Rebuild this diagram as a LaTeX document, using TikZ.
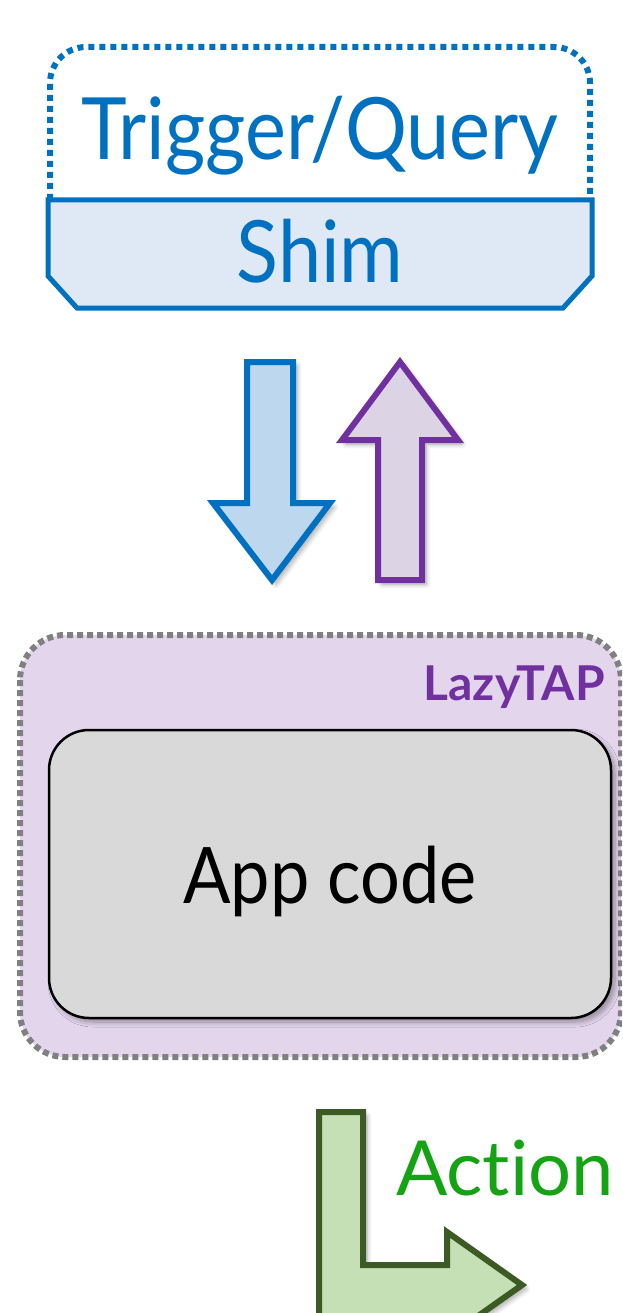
\documentclass[tikz,border=0pt]{standalone}
\usepackage{fontspec}
\setmainfont{Lato}[Ligatures=NoCommon]
\newfontfamily\narrowsans{Lato}[FakeStretch=0.9,Ligatures=NoCommon]
\usetikzlibrary{shadows.blur}
\definecolor{tqblue}{HTML}{0070C0}
\definecolor{shimfill}{HTML}{DEE9F5}
\definecolor{downfill}{HTML}{BDD7EE}
\definecolor{lazypurple}{HTML}{7030A0}
\definecolor{upfill}{HTML}{DCD4E5}
\definecolor{lazyfill}{HTML}{E2D5EC}
\definecolor{lazygray}{HTML}{808080}
\definecolor{appfill}{HTML}{D9D9D9}
\definecolor{actgreen}{HTML}{13A313}
\definecolor{arrgreen}{HTML}{3B5A24}
\definecolor{arrgreenfill}{HTML}{C5E0B4}
\tikzset{
  softshadow/.style={blur shadow={shadow xshift=4pt,shadow yshift=-4pt,shadow blur steps=8,shadow blur radius=5pt,shadow opacity=35}},
  blockarrow/.style={line width=6pt,line join=miter,softshadow},
  label/.style={inner sep=0pt,anchor=base}
}
\begin{document}
\begin{tikzpicture}[x=1pt,y=-1pt]
\useasboundingbox (0,0) rectangle (622,1313);
\begin{scope}
\clip (0,0) rectangle (622,1313);

% Trigger/Query frame (dotted, open at the bottom)
\draw[tqblue,line width=6pt,dash pattern=on 6pt off 5pt,rounded corners=36pt]
  (50,200) -- (50,47) -- (590,47) -- (590,200);
\node[label,text=tqblue,font=\narrowsans\fontsize{86}{86}\selectfont] (trig) at (320,160) {Trigger/Query};

% Shim band with chamfered bottom corners
\draw[tqblue,fill=shimfill,line width=5pt]
  (48,200) -- (592,200) -- (592,276) -- (563,308) -- (77,308) -- (48,276) -- cycle;
\node[label,text=tqblue,font=\narrowsans\fontsize{86}{86}\selectfont] (shim) at (320,283) {Shim};

% Request / response block arrows
\draw[blockarrow,tqblue,fill=downfill]
  (247,362) -- (293,362) -- (293,503) -- (330,503) -- (272,580) -- (213,503) -- (247,503) -- cycle;
\draw[blockarrow,lazypurple,fill=upfill]
  (400,362) -- (458,440) -- (422,440) -- (422,580) -- (378,580) -- (378,440) -- (342,440) -- cycle;

% LazyTAP container
\draw[lazygray,fill=lazyfill,line width=6pt,dash pattern=on 6pt off 4pt,rounded corners=45pt]
  (20,635) rectangle (621,1057);
\node[inner sep=0pt,anchor=base east,text=lazypurple,font=\bfseries\fontsize{48}{48}\selectfont] (lazy) at (605,700) {LazyTAP};

% App code box
\node[draw=black,line width=2.5pt,fill=appfill,rounded corners=40pt,softshadow,
      minimum width=562pt,minimum height=288pt,inner sep=0pt] (app) at (330,874) {};
\node[label,font=\narrowsans\fontsize{78}{78}\selectfont] (apptext) at (330,903) {App code};

% Action output arrow
\draw[blockarrow,arrgreen,fill=arrgreenfill]
  (319,1112) -- (363,1112) -- (363,1265) -- (447,1265) -- (447,1232) -- (522,1285)
  -- (447,1338) -- (447,1330) -- (319,1330) -- cycle;
\node[inner sep=0pt,anchor=base west,text=actgreen,font=\fontsize{76}{76}\selectfont] (action) at (396,1195) {Action};
\end{scope}
\end{tikzpicture}
\end{document}
